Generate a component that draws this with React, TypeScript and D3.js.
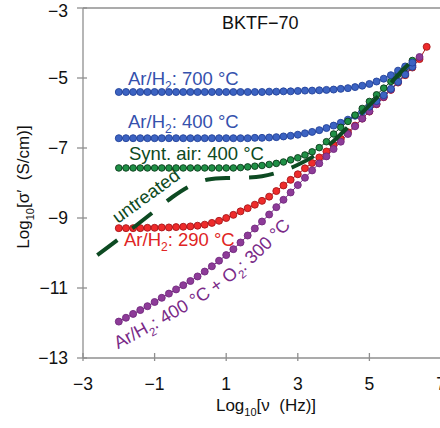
import React from 'react';
import * as d3 from 'd3';

// log10 frequency grid (Hz) shared by the measured series
const logFreq = [-2, -1.8, -1.6, -1.4, -1.2, -1, -0.8, -0.6, -0.4, -0.2, 0, 0.2, 0.4, 0.6, 0.8, 1, 1.2, 1.4, 1.6, 1.8, 2, 2.2, 2.4, 2.6, 2.8, 3, 3.2, 3.4, 3.6, 3.8, 4, 4.2, 4.4, 4.6, 4.8, 5, 5.2, 5.4, 5.6, 5.8, 6, 6.2, 6.4, 6.6];

const arH2_700 = [-5.40, -5.40, -5.40, -5.40, -5.40, -5.40, -5.40, -5.40, -5.40, -5.40, -5.40, -5.40, -5.40, -5.40, -5.40, -5.40, -5.40, -5.40, -5.40, -5.40, -5.40, -5.39, -5.39, -5.38, -5.38, -5.37, -5.36, -5.36, -5.35, -5.34, -5.33, -5.31, -5.29, -5.26, -5.22, -5.17, -5.10, -5.02, -4.92, -4.79, -4.67, -4.56];
const arH2_400 = [-6.72, -6.72, -6.72, -6.72, -6.72, -6.72, -6.72, -6.72, -6.72, -6.72, -6.72, -6.72, -6.72, -6.72, -6.72, -6.72, -6.72, -6.72, -6.72, -6.71, -6.71, -6.70, -6.69, -6.67, -6.65, -6.62, -6.58, -6.54, -6.49, -6.43, -6.36, -6.28, -6.19, -6.08, -5.96, -5.82, -5.66, -5.49, -5.31, -5.11, -4.90, -4.68];
const syntAir_400 = [-7.57, -7.57, -7.57, -7.57, -7.57, -7.57, -7.57, -7.57, -7.57, -7.57, -7.57, -7.57, -7.57, -7.57, -7.57, -7.57, -7.57, -7.56, -7.54, -7.52, -7.50, -7.47, -7.44, -7.40, -7.34, -7.28, -7.20, -7.11, -6.99, -6.82, -6.60, -6.41, -6.24, -6.06, -5.87, -5.67, -5.48, -5.29, -5.10, -4.90, -4.70, -4.50];
const arH2_290 = [-9.29, -9.29, -9.29, -9.29, -9.28, -9.28, -9.27, -9.27, -9.26, -9.25, -9.24, -9.22, -9.19, -9.14, -9.08, -9.00, -8.91, -8.81, -8.72, -8.62, -8.51, -8.39, -8.23, -8.07, -7.91, -7.75, -7.58, -7.43, -7.27, -7.10, -6.92, -6.74, -6.55, -6.36, -6.16, -5.96, -5.75, -5.55, -5.34, -5.13, -4.92, -4.70, -4.46, -4.11];
const arH2_400_O2_300 = [-11.96, -11.85, -11.74, -11.63, -11.52, -11.40, -11.28, -11.16, -11.04, -10.92, -10.80, -10.67, -10.53, -10.38, -10.22, -10.06, -9.89, -9.70, -9.50, -9.30, -9.10, -8.90, -8.69, -8.48, -8.27, -8.06, -7.85, -7.64, -7.44, -7.24, -7.03, -6.82, -6.60, -6.38, -6.16, -5.95, -5.74, -5.54, -5.33, -5.11, -4.88, -4.64, -4.40];

// untreated sample (dashed curve)
const untreatedX = [-2.6, -2.0, -1.5, -1.0, -0.5, 0, 0.5, 1.0, 1.5, 2.0, 2.5, 3.0, 3.5, 4.0, 4.5, 5.0, 5.5, 6.0, 6.3];
const untreatedY = [-10.06, -9.6, -9.2, -8.8, -8.4, -8.08, -7.9, -7.86, -7.85, -7.81, -7.68, -7.48, -7.2, -6.8, -6.3, -5.78, -5.25, -4.7, -4.42];

const xTicks = [-3, -1, 1, 3, 5, 7];
const yTicks = [-3, -5, -7, -9, -11, -13];

const FONT = 'Liberation Sans, Arial, sans-serif';

const x = d3.scaleLinear().domain([-3, 7]).range([83, 441]);
const y = d3.scaleLinear().domain([-13, -3]).range([358, 8]);

type Series = { key: string; values: number[]; fill: string; stroke: string; r: number };

const series: Series[] = [
  { key: 'red', values: arH2_290, fill: '#ee2b2b', stroke: '#a8161a', r: 3.5 },
  { key: 'purple', values: arH2_400_O2_300, fill: '#8d3b98', stroke: '#72287e', r: 3.5 },
  { key: 'blue400', values: arH2_400, fill: '#3c63c2', stroke: '#22429a', r: 3.5 },
  { key: 'green', values: syntAir_400, fill: '#1f9046', stroke: '#0b3b1b', r: 3.3 },
  { key: 'blue700', values: arH2_700, fill: '#3c63c2', stroke: '#22429a', r: 3.5 },
];

function Label({ x0, y0, color, parts, size = 18.5, rotate = 0 }: { x0: number; y0: number; color: string; parts: [string, boolean][]; size?: number; rotate?: number }) {
  return (
    <text x={x0} y={y0} fill={color} fontSize={size} fontFamily={FONT} transform={rotate ? `rotate(${rotate} ${x0} ${y0})` : undefined} style={{ whiteSpace: 'pre' }}>
      {parts.map(([t, sub], i) => (
        <tspan key={i} fontSize={sub ? size * 0.65 : size} dy={sub ? 5 : i > 0 && parts[i - 1][1] ? -5 : 0}>{t}</tspan>
      ))}
    </text>
  );
}

export default function App() {
  const lineGen = d3.line<[number, number]>().x(d => x(d[0])).y(d => y(d[1]));
  const untreatedPath = d3.line<number>().x((_, i) => x(untreatedX[i])).y(d => y(d)).curve(d3.curveMonotoneX)(untreatedY) || '';

  // offset path below the purple series for its curved label
  const pts = arH2_400_O2_300.map((v, i) => [x(logFreq[i]), y(v)] as [number, number]);
  const off = 24;
  const offPts: [number, number][] = pts.map((p, i) => {
    const a = pts[Math.max(0, i - 1)];
    const b = pts[Math.min(pts.length - 1, i + 1)];
    const dx = b[0] - a[0], dy = b[1] - a[1];
    const L = Math.hypot(dx, dy);
    return [p[0] + (-dy / L) * off, p[1] + (dx / L) * off];
  });
  const t0x = offPts[1][0] - offPts[0][0], t0y = offPts[1][1] - offPts[0][1];
  const t0L = Math.hypot(t0x, t0y);
  const ext: [number, number] = [offPts[0][0] - (t0x / t0L) * 40, offPts[0][1] - (t0y / t0L) * 40];
  const labelPath = d3.line().curve(d3.curveBasis)([ext, ...offPts]) || '';

  const axisColor = '#8f8f8f';

  return (
    <svg width={440} height={428} style={{ position: 'absolute', left: 0, top: 0, background: '#fff' }} fontFamily={FONT}>
      <defs>
        <path id="purpleLabelPath" d={labelPath} fill="none" />
      </defs>
      {/* frame */}
      <line x1={x(-3)} x2={440} y1={y(-3)} y2={y(-3)} stroke={axisColor} strokeWidth={1.3} />
      <line x1={x(-3)} x2={x(-3)} y1={y(-3)} y2={y(-13)} stroke={axisColor} strokeWidth={1.3} />
      <line x1={x(-3)} x2={440} y1={y(-13)} y2={y(-13)} stroke={axisColor} strokeWidth={1.3} />
      {yTicks.map(t => (
        <g key={t}>
          <line x1={x(-3) - 6} x2={x(-3) + 4} y1={y(t)} y2={y(t)} stroke={axisColor} strokeWidth={1.3} />
          <text x={68} y={Math.max(y(t) + 6, 17)} textAnchor="end" fontSize={17.5} fill="#111">{`\u2212${Math.abs(t)}`}</text>
        </g>
      ))}
      {xTicks.map(t => (
        <g key={t}>
          <line x1={x(t)} x2={x(t)} y1={y(-13) - 5} y2={y(-13) + 3} stroke={axisColor} strokeWidth={1.3} />
          <text x={x(t)} y={390} textAnchor="middle" fontSize={17.5} fill="#111">{t < 0 ? `\u2212${Math.abs(t)}` : `${t}`}</text>
        </g>
      ))}
      {/* axis titles */}
      <text x={266} y={411} textAnchor="middle" fontSize={17} fill="#111" style={{ whiteSpace: 'pre' }}>
        <tspan>Log</tspan><tspan fontSize={11} dy={5}>10</tspan><tspan dy={-5}>{'[\u03bd  (Hz)]'}</tspan>
      </text>
      <text transform="translate(29,187) rotate(-90)" textAnchor="middle" fontSize={17} fill="#111" style={{ whiteSpace: 'pre' }}>
        <tspan>Log</tspan><tspan fontSize={11} dy={5}>10</tspan><tspan dy={-5}>{'[\u03c3\u2032  (S/cm)]'}</tspan>
      </text>
      <text x={222} y={29} fontSize={18} fill="#111">BKTF{'\u2212'}70</text>

      {/* connecting lines */}
      {series.map(s => (
        <path key={s.key + 'l'} d={lineGen(s.values.map((v, i) => [logFreq[i], v] as [number, number])) || ''} fill="none" stroke={s.stroke} strokeWidth={1} />
      ))}
      {/* dots */}
      {series.map(s => (
        <g key={s.key}>
          {s.values.map((v, i) => (
            <circle key={i} cx={x(logFreq[i])} cy={y(v)} r={s.r} fill={s.fill} stroke={s.stroke} strokeWidth={0.9} />
          ))}
        </g>
      ))}
      {/* untreated dashed */}
      <path d={untreatedPath} fill="none" stroke="#0d4a22" strokeWidth={4} strokeDasharray="25 19" />

      {/* series labels */}
      <Label x0={128} y0={85} color="#3551ad" parts={[['Ar/H', false], ['2', true], [': 700 \u00b0C', false]]} />
      <Label x0={128} y0={128} color="#3551ad" parts={[['Ar/H', false], ['2', true], [': 400 \u00b0C', false]]} />
      <Label x0={129} y0={160} color="#0d4a22" parts={[['Synt. air: 400 \u00b0C', false]]} />
      <Label x0={124} y0={246} color="#e02424" parts={[['Ar/H', false], ['2', true], [': 290 \u00b0C', false]]} />
      <Label x0={118} y0={224} color="#0d4a22" parts={[['untreated', false]]} rotate={-36} />
      <text fontSize={18} fill="#7a2a88" style={{ whiteSpace: 'pre' }}>
        <textPath href="#purpleLabelPath" startOffset={26}>
          <tspan>Ar/H</tspan><tspan fontSize={11.5} dy={5}>2</tspan><tspan dy={-5}>{': 400 \u00b0C + O'}</tspan><tspan fontSize={11.5} dy={5}>2</tspan><tspan dy={-5}>{': 300 \u00b0C'}</tspan>
        </textPath>
      </text>
    </svg>
  );
}
